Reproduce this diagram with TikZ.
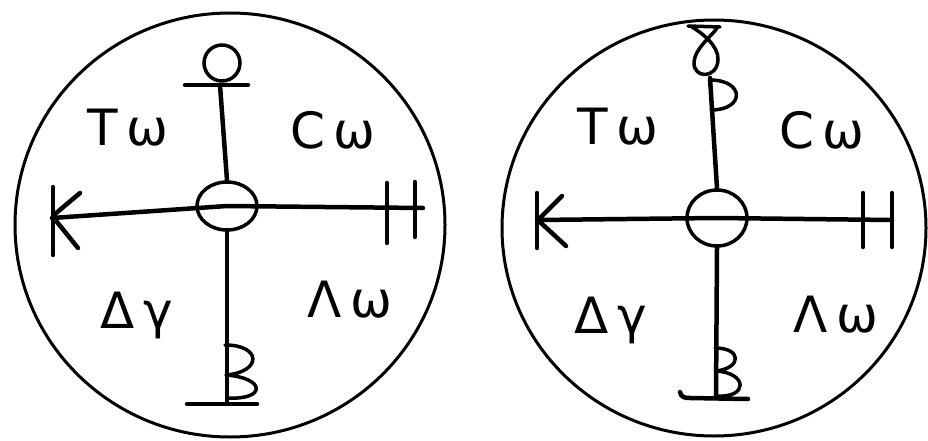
\documentclass[tikz,border=0pt]{standalone}
\usepackage{fontspec}
\setmainfont{DejaVu Sans}
\usetikzlibrary{shapes.geometric}
\begin{document}
\begin{tikzpicture}[x=1pt,y=-1pt,
  stroke/.style={line width=4.5pt, line cap=round, line join=round},
  thin/.style={line width=3.5pt, line cap=round, line join=round},
  outer/.style={draw, line width=3pt},
  ring/.style={draw, line width=3.5pt, ellipse, inner sep=0pt},
  lbl/.style={font=\fontsize{50}{50}\selectfont, inner sep=0pt}]
\useasboundingbox[fill=white] (0,0) rectangle (928,441);

% ---------- left disc ----------
\node[outer, ellipse, minimum width=430pt, minimum height=424pt, inner sep=0pt] (d1) at (230,225) {};
\node[ring, minimum width=60pt, minimum height=48pt] (c1) at (227,206) {};
\node[ring, circle, minimum size=36pt] (a1) at (222,63) {};
\coordinate (k1) at (52,218);
\coordinate (h1) at (423,208);
\coordinate (t1) at (220,85);
\coordinate (b1) at (227,403);
% horizontal axis
\draw[stroke] (k1) -- (c1.center) -- (h1);
% K
\draw[stroke] (53,187) -- (53,255);
\draw[stroke] (55,214) -- (80,193);
\draw[stroke] (57,222) -- (78,248);
% H
\draw[stroke] (387,183) -- (387,243);
\draw[stroke] (415,182) -- (415,237);
% top ankh
\draw[stroke] (185,85) -- (248,85);
\draw[stroke] (t1) -- (c1.north);
% bottom
\draw[stroke] (c1.south) -- (b1);
\draw[stroke] (187,404) -- (257,404);
\draw[thin] (225,345) .. controls (262,345) and (262,372) .. (226,375)
            .. controls (266,378) and (266,400) .. (228,398);
% labels
\node[lbl] (tw1) at (128,128) {T\,ω};
\node[lbl] (cw1) at (333,130) {C\,ω};
\node[lbl] (dg1) at (137,315) {Δ\,γ};
\node[lbl] (lw1) at (350,300) {Λ\,ω};

% ---------- right disc ----------
\node[outer, ellipse, minimum width=424pt, minimum height=416pt, inner sep=0pt] (d2) at (714,228) {};
\node[ring, minimum width=60pt, minimum height=56pt] (c2) at (717,218) {};
\coordinate (k2) at (537,220);
\coordinate (h2) at (892,220);
\coordinate (t2) at (710,78);
\coordinate (b2) at (716,398);
% horizontal axis
\draw[stroke] (k2) -- (c2.center) -- (h2);
% K
\draw[stroke] (537,193) -- (537,248);
\draw[stroke] (539,219) -- (562,196);
\draw[stroke] (540,222) -- (566,246);
% H
\draw[stroke] (863,193) -- (863,247);
\draw[stroke] (892,193) -- (892,247);
% top: gamma on a bar, P loop
\draw[thin] (688,26) -- (720,27);
\draw[thin] (692,27) .. controls (702,33) and (719,46) .. (718,60)
            .. controls (717,79) and (693,79) .. (694,62)
            .. controls (695,48) and (712,36) .. (717,28);
\draw[stroke] (t2) -- (c2.north);
\draw[thin] (710,80) .. controls (745,80) and (745,110) .. (711,110);
% bottom
\draw[stroke] (c2.south) -- (b2);
\draw[stroke] (680,392) .. controls (681,397) and (684,398) .. (690,398) -- (748,399);
\draw[thin] (715,348) .. controls (742,348) and (742,368) .. (716,371)
            .. controls (748,373) and (748,398) .. (717,396);
% labels
\node[lbl] (tw2) at (618,127) {T\,ω};
\node[lbl] (cw2) at (822,130) {C\,ω};
\node[lbl] (dg2) at (611,320) {Δ\,γ};
\node[lbl] (lw2) at (836,315) {Λ\,ω};
\end{tikzpicture}
\end{document}
